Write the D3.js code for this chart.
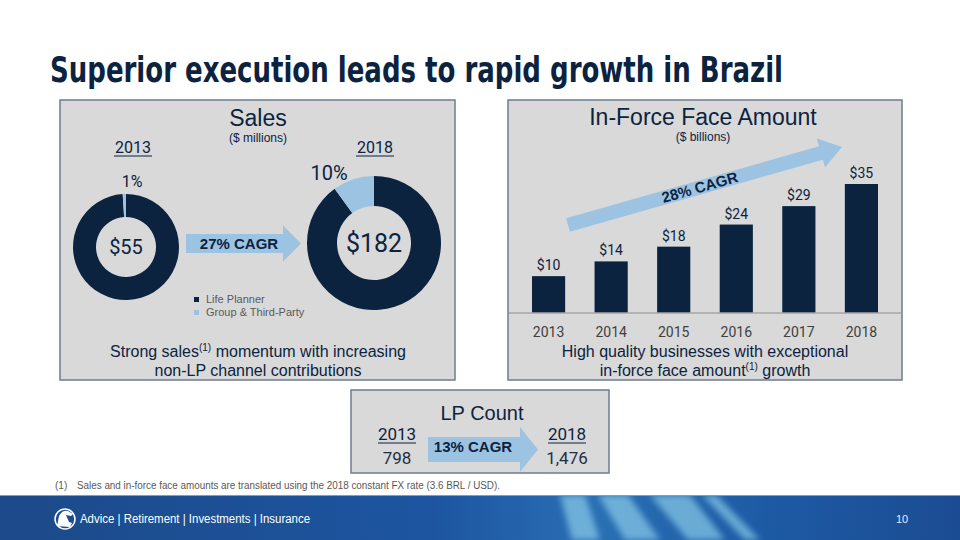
<!DOCTYPE html>
<html>
<head>
<meta charset="utf-8">
<script src="https://cdnjs.cloudflare.com/ajax/libs/d3/7.8.5/d3.min.js"></script>
<style>
   body { margin: 0; background: #fff; }
   svg { display: block; }
</style>
</head>
<body>
<svg></svg>
<script>
var width = 960;
var height = 540;

var navy = '#0c2340';
var lightBlue = '#9dc3e2';
var panelFill = '#d9d9d9';
var panelStroke = '#6c7c90';
var grayText = '#404040';

var narrow = '"Liberation Sans Narrow", "DejaVu Sans Condensed", "Roboto Condensed", sans-serif';
var sans = '"Liberation Sans", Arial, sans-serif';
var nums = 'Roboto, "Open Sans", sans-serif';

// data
var salesYears = ['2013', '2018'];
var salesTotals = [55, 182];
var lifePlannerShare = [99, 90];
var groupShare = [1, 10];
var salesLegend = ['Life Planner', 'Group & Third-Party'];

var forceYears = ['2013', '2014', '2015', '2016', '2017', '2018'];
var forceValues = [10, 14, 18, 24, 29, 35];

var lpYears = ['2013', '2018'];
var lpCounts = [798, 1476];

var cagrLabels = ['27% CAGR', '28% CAGR', '13% CAGR'];

var svg = d3.select('svg')
   .attr('width', width)
   .attr('height', height)
   .attr('viewBox', '0 0 ' + width + ' ' + height)
;

var defs = svg.append('defs');

// slide title
svg.append('text')
   .attr('x', 50)
   .attr('y', 82)
   .attr('textLength', 733)
   .attr('lengthAdjust', 'spacingAndGlyphs')
   .style('font-family', narrow)
   .style('font-weight', 'bold')
   .style('font-size', '35px')
   .style('fill', navy)
   .text('Superior execution leads to rapid growth in Brazil')
;

// panels
var panels = [
   { x: 60, y: 100, w: 395, h: 280 },
   { x: 508, y: 100, w: 394, h: 280 },
   { x: 351, y: 390, w: 258, h: 83 }
];

svg.selectAll('rect.panel')
   .data(panels)
   .enter()
   .append('rect')
   .attr('class', 'panel')
   .attr('x', function(d) { return d.x; })
   .attr('y', function(d) { return d.y; })
   .attr('width', function(d) { return d.w; })
   .attr('height', function(d) { return d.h; })
   .style('fill', panelFill)
   .style('stroke', panelStroke)
   .style('stroke-width', 1.5)
;

// horizontal block arrow, tip pointing right
function arrowPath(x0, x1, cy, shaftHalf, headHalf, headLen) {
   var p = d3.path();
   p.moveTo(x0, cy - shaftHalf);
   p.lineTo(x1 - headLen, cy - shaftHalf);
   p.lineTo(x1 - headLen, cy - headHalf);
   p.lineTo(x1, cy);
   p.lineTo(x1 - headLen, cy + headHalf);
   p.lineTo(x1 - headLen, cy + shaftHalf);
   p.lineTo(x0, cy + shaftHalf);
   p.closePath();
   return p.toString();
}

function centered(g, x, y, txt, size, opts) {
   opts = opts || {};
   return g.append('text')
      .attr('x', x)
      .attr('y', y)
      .attr('text-anchor', 'middle')
      .style('font-family', opts.family || sans)
      .style('font-weight', opts.weight || 'normal')
      .style('font-size', size + 'px')
      .style('fill', opts.fill || navy)
      .text(txt)
   ;
}

function underlined(g, x, y, txt, size, w) {
   centered(g, x, y, txt, size, { family: nums });
   g.append('line')
      .attr('x1', x - w / 2)
      .attr('x2', x + w / 2)
      .attr('y1', y + 3)
      .attr('y2', y + 3)
      .style('stroke', navy)
      .style('stroke-width', 1.2)
   ;
}

// caption line with a superscript "(1)"
function caption(g, x, y, before, after) {
   var t = g.append('text')
      .attr('x', x)
      .attr('y', y)
      .attr('text-anchor', 'middle')
      .style('font-family', sans)
      .style('font-size', '16px')
      .style('fill', navy)
   ;
   t.append('tspan').text(before);
   t.append('tspan').attr('dy', -6).style('font-size', '10px').text('(1)');
   t.append('tspan').attr('dy', 6).text(after);
}

/* ---------- Sales panel ---------- */

var sales = svg.append('g');

centered(sales, 258, 126, 'Sales', 23);
centered(sales, 258, 142, '($ millions)', 12);

var donuts = [
   { cx: 126, cy: 247, r0: 30, r1: 53, totalSize: 20, pctSize: 16, pctX: 132, pctY: 187, yearX: 133 },
   { cx: 374, cy: 243, r0: 37, r1: 67, totalSize: 25, pctSize: 20, pctX: 329, pctY: 180, yearX: 375 }
];

var pie = d3.pie().sort(null).value(function(d) { return d; });

donuts.forEach(function(dn, i) {

   var arc = d3.arc().innerRadius(dn.r0).outerRadius(dn.r1);

   underlined(sales, dn.yearX, 153, salesYears[i], 16, 38);

   sales.append('g')
      .attr('transform', 'translate(' + dn.cx + ',' + dn.cy + ')')
      .selectAll('path')
      .data(pie([lifePlannerShare[i], groupShare[i]]))
      .enter()
      .append('path')
      .attr('d', arc)
      .style('fill', function(d, j) { return j == 0 ? navy : lightBlue; })
   ;

   centered(sales, dn.cx, dn.cy + dn.totalSize * 0.36, '$' + salesTotals[i], dn.totalSize, { family: nums });
   centered(sales, dn.pctX, dn.pctY, groupShare[i] + '%', dn.pctSize, { family: nums });

});

sales.append('path')
   .attr('d', arrowPath(186, 301, 243.5, 9.5, 18, 18))
   .style('fill', lightBlue)
;

centered(sales, 239, 249, cagrLabels[0], 15, { weight: 'bold' });

var legend = sales.selectAll('g.legend')
   .data(salesLegend)
   .enter()
   .append('g')
   .attr('class', 'legend')
   .attr('transform', function(d, i) { return 'translate(194,' + (297 + i * 13) + ')'; })
;

legend.append('rect')
   .attr('width', 5)
   .attr('height', 5)
   .style('fill', function(d, i) { return i == 0 ? navy : lightBlue; })
;

legend.append('text')
   .attr('x', 12)
   .attr('y', 6)
   .style('font-family', sans)
   .style('font-size', '11px')
   .style('fill', '#595959')
   .text(function(d) { return d; })
;

caption(sales, 258, 357, 'Strong sales', ' momentum with increasing');
centered(sales, 258, 376, 'non-LP channel contributions', 16);

/* ---------- In-Force Face Amount panel ---------- */

var force = svg.append('g');

centered(force, 703, 125, 'In-Force Face Amount', 23);
centered(force, 703, 141, '($ billions)', 12);

var x = d3.scaleBand()
   .domain(forceYears)
   .range([532, 878])
   .paddingInner(0.47)
   .paddingOuter(0)
;

var y = d3.scaleLinear()
   .domain([0, 35])
   .range([313, 184])
;

// growth arrow behind the bars
var ga = force.append('g')
   .attr('transform', 'translate(568,225) rotate(-15.9)')
;

ga.append('path')
   .attr('d', arrowPath(0, 285, 0, 7, 15, 22))
   .style('fill', lightBlue)
;

ga.append('text')
   .attr('x', 137)
   .attr('y', 5)
   .attr('text-anchor', 'middle')
   .style('font-family', sans)
   .style('font-weight', 'bold')
   .style('font-size', '15px')
   .style('fill', navy)
   .text(cagrLabels[1])
;

force.selectAll('rect.bar')
   .data(forceValues)
   .enter()
   .append('rect')
   .attr('class', 'bar')
   .attr('x', function(d, i) { return x(forceYears[i]); })
   .attr('y', function(d) { return y(d); })
   .attr('width', x.bandwidth())
   .attr('height', function(d) { return y(0) - y(d); })
   .style('fill', navy)
;

force.selectAll('text.val')
   .data(forceValues)
   .enter()
   .append('text')
   .attr('class', 'val')
   .attr('x', function(d, i) { return x(forceYears[i]) + x.bandwidth() / 2; })
   .attr('y', function(d) { return y(d) - 6; })
   .attr('text-anchor', 'middle')
   .style('font-family', nums)
   .style('font-size', '14px')
   .style('fill', navy)
   .text(function(d) { return '$' + d; })
;

var xAxis = force.append('g')
   .attr('transform', 'translate(0,' + y(0) + ')')
   .call(d3.axisBottom(x).tickSize(0).tickPadding(14))
;

xAxis.select('.domain').remove();

xAxis.selectAll('text')
   .style('font-family', nums)
   .style('font-size', '14px')
   .style('fill', grayText)
;

force.append('line')
   .attr('x1', 509)
   .attr('x2', 901)
   .attr('y1', y(0))
   .attr('y2', y(0))
   .style('stroke', '#a6a6a6')
   .style('stroke-width', 1.5)
;

centered(force, 705, 357, 'High quality businesses with exceptional', 16);
caption(force, 705, 376, 'in-force face amount', ' growth');

/* ---------- LP Count panel ---------- */

var lp = svg.append('g');

centered(lp, 482, 420, 'LP Count', 20);

lp.append('path')
   .attr('d', arrowPath(428, 538, 449.5, 12.5, 22.5, 18))
   .style('fill', lightBlue)
;

centered(lp, 473, 452, cagrLabels[2], 15, { weight: 'bold' });

[397, 567].forEach(function(cx, i) {
   underlined(lp, cx, 440, lpYears[i], 17, 38);
   centered(lp, cx, 464, d3.format(',')(lpCounts[i]), 17, { family: nums, fill: '#1f2f45' });
});

/* ---------- footnote ---------- */

svg.append('text')
   .attr('x', 55)
   .attr('y', 489)
   .style('font-family', sans)
   .style('font-size', '10px')
   .style('fill', '#595959')
   .text('(1)')
;

svg.append('text')
   .attr('x', 77)
   .attr('y', 489)
   .attr('textLength', 423)
   .attr('lengthAdjust', 'spacingAndGlyphs')
   .style('font-family', sans)
   .style('font-size', '10px')
   .style('fill', '#595959')
   .text('Sales and in-force face amounts are translated using the 2018 constant FX rate (3.6 BRL / USD).')
;

/* ---------- footer band ---------- */

var grad = defs.append('linearGradient')
   .attr('id', 'band')
   .attr('x1', 0).attr('x2', 1).attr('y1', 0).attr('y2', 0)
;

[['0%', '#1c4a8a'], ['45%', '#1d55a0'], ['62%', '#2a6fb4'], ['80%', '#1d5aa4'], ['100%', '#1b4c92']]
   .forEach(function(s) {
      grad.append('stop').attr('offset', s[0]).attr('stop-color', s[1]);
   });

defs.append('filter')
   .attr('id', 'soft')
   .attr('x', '-20%').attr('y', '-20%').attr('width', '140%').attr('height', '140%')
   .append('feGaussianBlur')
   .attr('stdDeviation', 3)
;

defs.append('clipPath')
   .attr('id', 'bandClip')
   .append('rect')
   .attr('x', 0).attr('y', 495).attr('width', width).attr('height', 45)
;

var footer = svg.append('g');

footer.append('rect')
   .attr('x', 0)
   .attr('y', 495)
   .attr('width', width)
   .attr('height', 45)
   .style('fill', 'url(#band)')
;

var streaks = [
   [[560, 495], [585, 495], [600, 540], [572, 540]],
   [[598, 495], [628, 495], [660, 540], [625, 540]],
   [[650, 495], [690, 495], [725, 540], [688, 540]],
   [[702, 495], [716, 495], [760, 540], [745, 540]]
];

footer.append('g')
   .attr('clip-path', 'url(#bandClip)')
   .selectAll('polygon')
   .data(streaks)
   .enter()
   .append('polygon')
   .attr('points', function(d) { return d.map(function(p) { return p.join(','); }).join(' '); })
   .attr('filter', 'url(#soft)')
   .style('fill', '#9adcf3')
   .style('opacity', 0.6)
;

footer.append('line')
   .attr('x1', 0).attr('x2', width)
   .attr('y1', 495.5).attr('y2', 495.5)
   .style('stroke', '#6fa3d3')
   .style('stroke-width', 1)
;

footer.append('circle')
   .attr('cx', 65)
   .attr('cy', 519)
   .attr('r', 10)
   .style('fill', 'none')
   .style('stroke', '#fff')
   .style('stroke-width', 1.5)
;

footer.append('path')
   .attr('d', 'M57,526 L59,516 Q62,510 68,511 L73,514 L71,516 L66,515 L69,522 L72,523 L70,527 Z')
   .style('fill', '#fff')
;

footer.append('text')
   .attr('x', 80)
   .attr('y', 523)
   .attr('textLength', 230)
   .attr('lengthAdjust', 'spacingAndGlyphs')
   .style('font-family', sans)
   .style('font-size', '12px')
   .style('fill', '#fff')
   .text('Advice  |  Retirement  |  Investments  |  Insurance')
;

footer.append('text')
   .attr('x', 902)
   .attr('y', 523)
   .attr('text-anchor', 'middle')
   .style('font-family', sans)
   .style('font-size', '11px')
   .style('fill', '#e6eef7')
   .text('10')
;
</script>
</body>
</html>
